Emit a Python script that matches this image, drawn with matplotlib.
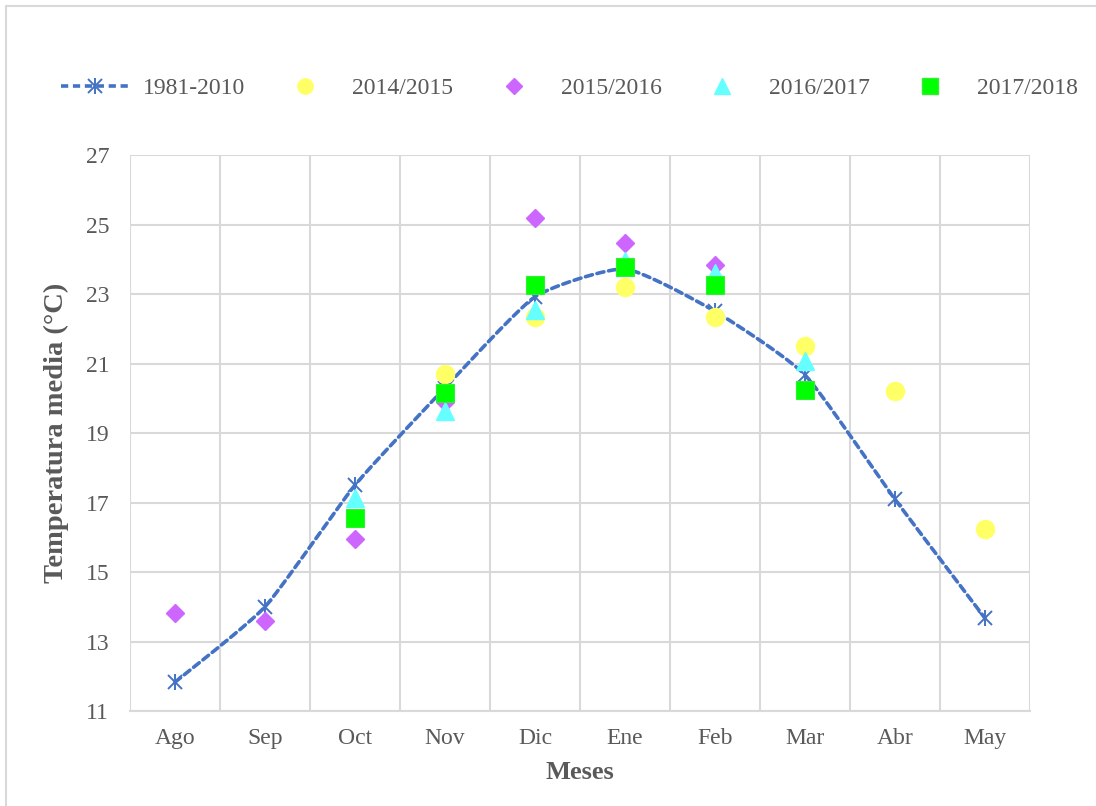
import numpy as np
import matplotlib
matplotlib.use("Agg")
import matplotlib.pyplot as plt
from matplotlib.lines import Line2D
from matplotlib.legend_handler import HandlerTuple

months = ["Ago", "Sep", "Oct", "Nov", "Dic", "Ene", "Feb", "Mar", "Abr", "May"]
normal_1981_2010 = [11.83, 14.0, 17.5, 20.3, 22.92, 23.72, 22.5, 20.67, 17.09, 13.67]
s2014_2015 = [None, None, None, 20.70, 22.35, 23.19, 22.35, 21.50, 20.22, 16.24]
s2015_2016 = [13.81, 13.60, 15.95, 19.90, 25.18, 24.48, 23.83, None, None, None]
s2016_2017 = [None, None, 17.13, 19.62, 22.54, 23.95, 23.60, 21.08, None, None]
s2017_2018 = [None, None, 16.56, 20.14, 23.27, 23.79, 23.27, 20.24, None, None]

y_ticks = [11, 13, 15, 17, 19, 21, 23, 25, 27]

plt.rcParams['font.family'] = ['Liberation Serif', 'DejaVu Serif']
TXT = '#595959'
GRID = '#D9D9D9'
BLUE = '#4472C4'

fig = plt.figure(figsize=(10.96, 8.06), dpi=100)
ax = fig.add_axes([130 / 1096, 1 - 711 / 806, 900 / 1096, 556 / 806])

x = np.arange(len(months))


def smooth(xs, ys, k=0.09, n=30):
    # Bezier smoothing similar to Excel "smoothed line"
    xs = np.asarray(xs, float)
    ys = np.asarray(ys, float)
    px = np.concatenate([[xs[0]], xs, [xs[-1]]])
    py = np.concatenate([[ys[0]], ys, [ys[-1]]])
    outx, outy = [], []
    for i in range(1, len(px) - 2):
        p0, p1, p2, p3 = [np.array([px[j], py[j]]) for j in (i - 1, i, i + 1, i + 2)]
        c1 = p1 + (p2 - p0) * k
        c2 = p2 - (p3 - p1) * k
        t = np.linspace(0, 1, n)[:, None]
        b = ((1 - t) ** 3) * p1 + 3 * ((1 - t) ** 2) * t * c1 + 3 * (1 - t) * t ** 2 * c2 + t ** 3 * p2
        outx.extend(b[:, 0])
        outy.extend(b[:, 1])
    return np.array(outx), np.array(outy)


def arr(v):
    return np.array([np.nan if a is None else a for a in v], float)


DASH = (0, (2.0, 1.3))
sx, sy = smooth(x, normal_1981_2010)
ax.plot(sx, sy, color=BLUE, lw=2.6, ls=DASH, zorder=3, dash_capstyle='round')
ax.plot(x, normal_1981_2010, ls='none', marker='x', ms=10, mew=1.4, color=BLUE, zorder=4)
ax.plot(x, normal_1981_2010, ls='none', marker='|', ms=12, mew=1.4, color=BLUE, zorder=4)

ax.plot(x, arr(s2014_2015), ls='none', marker='o', ms=13, color='#FFFF66', mec='#FFFF66', zorder=5)
ax.plot(x, arr(s2015_2016), ls='none', marker='D', ms=9.5, color='#CC66FF', mec='#CC66FF', zorder=5)
ax.plot(x, arr(s2016_2017), ls='none', marker='^', ms=13, color='#66FFFF', mec='#66FFFF', zorder=5)
ax.plot(x, arr(s2017_2018), ls='none', marker='s', ms=13, color='#00FF00', mec='#33EE33', mew=0.8, zorder=6)

ax.set_xlim(-0.5, len(months) - 0.5)
ax.set_ylim(11, 27)
ax.set_yticks(y_ticks)
ax.set_xticks(x)
ax.set_xticklabels(months)
ax.set_xticks(np.arange(-0.5, len(months)), minor=True)
ax.grid(True, which='minor', axis='x', color=GRID, lw=1.5)
ax.grid(True, which='major', axis='y', color=GRID, lw=1.5)
ax.set_axisbelow(True)
for s in ['top', 'right', 'left']:
    ax.spines[s].set_visible(False)
ax.spines['bottom'].set_color(GRID)
ax.spines['bottom'].set_linewidth(1.5)
ax.tick_params(axis='both', which='both', length=0, labelsize=17, labelcolor=TXT)
ax.tick_params(axis='x', pad=12)
ax.tick_params(axis='y', pad=15)

ax.set_xlabel('Meses', fontsize=19, fontweight='bold', color=TXT, labelpad=9)
ax.set_ylabel('Temperatura media (°C)', fontsize=20.5, fontweight='bold', color=TXT, labelpad=12)

# legend
h_line = (Line2D([], [], color=BLUE, lw=2.6, ls=DASH),
          Line2D([], [], ls='none', marker='x', ms=10, mew=1.4, color=BLUE),
          Line2D([], [], ls='none', marker='|', ms=12, mew=1.4, color=BLUE))
h1 = Line2D([], [], ls='none', marker='o', ms=11, color='#FFFF66', mec='#FFFF66')
h2 = Line2D([], [], ls='none', marker='D', ms=8, color='#CC66FF', mec='#CC66FF')
h3 = Line2D([], [], ls='none', marker='^', ms=11, color='#66FFFF', mec='#66FFFF')
h4 = Line2D([], [], ls='none', marker='s', ms=11, color='#00FF00', mec='#33EE33')
leg = fig.legend([h_line, h1, h2, h3, h4], ['1981-2010', '2014/2015', '2015/2016', '2016/2017', '2017/2018'],
                 loc='center left', bbox_to_anchor=(40 / 1096, 1 - 88 / 806), ncol=5, frameon=False,
                 fontsize=17, handlelength=2.9, handletextpad=0.55, columnspacing=1.1,
                 handler_map={tuple: HandlerTuple(ndivide=1, pad=0)})
for t in leg.get_texts():
    t.set_color(TXT)

# chart border (left & top visible)
fig.add_artist(Line2D([6 / 1096, 6 / 1096], [0, 1 - 6 / 806], color=GRID, lw=1.5, transform=fig.transFigure))
fig.add_artist(Line2D([6 / 1096, 1], [1 - 6 / 806, 1 - 6 / 806], color=GRID, lw=1.5, transform=fig.transFigure))

fig.savefig('out.png', dpi=100)
